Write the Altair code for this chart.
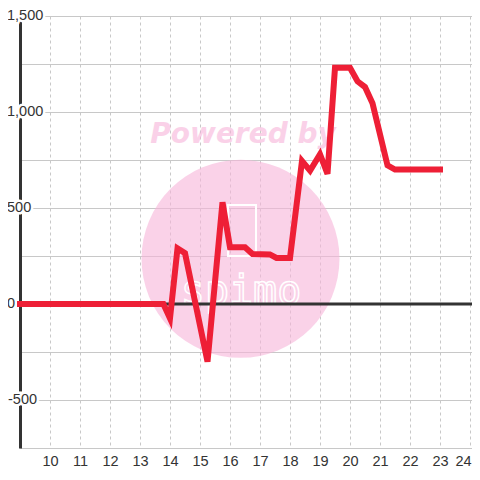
import altair as alt
import pandas as pd

# ---- data ----
hours = [9.0, 13.78, 14.0, 14.25, 14.5, 15.25, 15.75, 16.0, 16.5, 16.75, 17.33, 17.55,
         18.0, 18.4, 18.67, 19.0, 19.25, 19.5, 20.0, 20.25, 20.5, 20.75, 21.25, 21.5, 23.0]
values = [0, 0, -75, 290, 265, -300, 530, 295, 295, 260, 258, 240,
          240, 745, 695, 780, 678, 1230, 1230, 1160, 1130, 1045, 722, 700, 700]

x_ticks = list(range(10, 25))
y_grid = [-750, -500, -250, 0, 250, 500, 750, 1000, 1250, 1500]
y_ticks = [1500, 1000, 500, 0, -500]
y_labels = ["1,500", "1,000", "500", "0", "-500"]

df = pd.DataFrame({"hour": hours, "value": values})
labels_df = pd.DataFrame({"v": y_ticks, "label": y_labels})
one = pd.DataFrame({"a": [0]})

FONT = "Liberation Sans"
TXT = "#333333"
GRID = "#c8c8c8"
RED = "#EE1F36"
PINK = "#F7B4D9"

xs = alt.Scale(domain=[9, 24.0667], nice=False, zero=False)
ys = alt.Scale(domain=[-750, 1500], nice=False, zero=False)

x_axis = alt.Axis(values=x_ticks, grid=True, gridDash=[3, 3], gridColor=GRID, gridWidth=1,
                  ticks=False, tickSize=0, domain=True, domainColor=GRID, domainWidth=1,
                  labelPadding=6, labelFontSize=14.5, labelFont=FONT, labelColor=TXT,
                  labelFlush=False, title=None, format="d",
                  labelOffset={"condition": {"test": "datum.value == 24", "value": -7},
                               "value": 0})
y_axis = alt.Axis(values=y_grid, grid=True, gridColor=GRID, gridWidth=1, labels=False,
                  ticks=False, tickSize=0, domain=True, domainColor="#333333", domainWidth=3,
                  title=None)

# watermark
circle = alt.Chart(one).mark_circle(size=39200, color=PINK, opacity=0.6).encode(
    x=alt.value(220.5), y=alt.value(242.8))
powered = alt.Chart(one).mark_text(
    text="Powered by", font="DejaVu Sans", fontWeight="bold", fontStyle="italic",
    fontSize=28, color=PINK, opacity=0.6, align="center", baseline="alphabetic"
).encode(x=alt.value(223), y=alt.value(127))
logo_txt = alt.Chart(one).mark_text(
    text="spimo", font="DejaVu Sans Mono", fontSize=40, fillOpacity=0, stroke="white",
    strokeWidth=1.5, align="center", baseline="alphabetic"
).encode(x=alt.value(221), y=alt.value(288))
logo_box = alt.Chart(one).mark_rect(fillOpacity=0, stroke="white", strokeWidth=2).encode(
    x=alt.value(208), x2=alt.value(236), y=alt.value(189), y2=alt.value(240))

zero = alt.Chart(pd.DataFrame({"z": [0]})).mark_rule(color="#333333", strokeWidth=3).encode(
    y=alt.Y("z:Q", scale=ys, axis=y_axis))


def label_layer(cond, dx, halo):
    kw = dict(align="left", baseline="middle", fontSize=14.5, font=FONT)
    if halo:
        kw.update(stroke="white", strokeWidth=5, fill="white")
    else:
        kw.update(fill=TXT)
    return alt.Chart(labels_df).transform_filter(cond).mark_text(**kw).encode(
        y=alt.Y("v:Q", scale=ys), x=alt.value(dx), text="label:N")


pos = "datum.v >= 0"
neg = "datum.v < 0"
labels = [label_layer(pos, -13, True), label_layer(neg, -12, True),
          label_layer(pos, -13, False), label_layer(neg, -12, False)]

line = alt.Chart(df).mark_line(color=RED, strokeWidth=6, strokeCap="square").encode(
    x=alt.X("hour:Q", scale=xs, axis=x_axis),
    y=alt.Y("value:Q", scale=ys, axis=y_axis),
    order="hour:Q")

chart = alt.layer(circle, powered, logo_txt, logo_box, zero, *labels, line).properties(
    width=452, height=432,
    autosize=alt.AutoSizeParams(type="none"),
    padding={"left": 12, "top": 8, "right": 0, "bottom": 22},
    background="white",
).configure_view(strokeWidth=0)

chart.save("out.html", embed_options={"renderer": "svg", "actions": False})
